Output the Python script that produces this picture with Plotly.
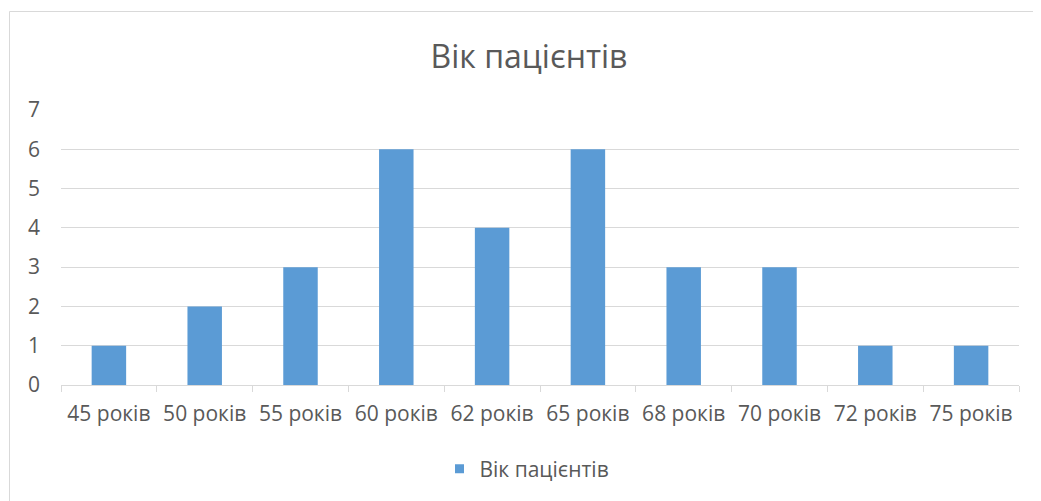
import plotly.graph_objects as go

categories = ["45 років", "50 років", "55 років", "60 років", "62 років",
              "65 років", "68 років", "70 років", "72 років", "75 років"]
values = [1, 2, 3, 6, 4, 6, 3, 3, 1, 1]
series_name = "Вік пацієнтів"
title_text = "Вік пацієнтів"

# the page body has an 8px margin; the figure is drawn at (8, 8)
OFF = 8
W, H = 1041 - OFF, 501 - OFF
# plot area in page pixels: x 61..1019, y 110..385
PL, PR, PT, PB = 61, 1019, 110, 385
L, T = PL - OFF, PT - OFF
R = W - (PR - OFF)
B = H - (PB - OFF)
pw = PR - PL
ph = PB - PT

def px_to_paper_x(px):
    return (px - PL) / pw

def px_to_paper_y(py):
    return (PB - py) / ph

FONT = "Open Sans, Noto Sans, sans-serif"
GRID = "#d9d9d9"
TXT = "#595959"
BLUE = "#5b9bd5"

fig = go.Figure()
fig.add_trace(go.Bar(x=categories, y=values, name=series_name,
                     marker=dict(color=BLUE, line=dict(width=0)),
                     showlegend=False))
# legend entry with a small square marker
fig.add_trace(go.Scatter(x=[None], y=[None], mode="markers", name=series_name,
                         marker=dict(symbol="square", size=9, color=BLUE),
                         showlegend=True, hoverinfo="skip"))

fig.update_layout(
    width=W, height=H,
    margin=dict(l=L, r=R, t=T, b=B),
    paper_bgcolor="white", plot_bgcolor="white",
    bargap=0.64,
    font=dict(family=FONT, color=TXT, size=21),
    title=dict(text=title_text, x=(529 - OFF) / W, xanchor="center",
               y=1 - (57 - OFF) / H, yanchor="middle", yref="container", xref="container",
               font=dict(size=32, color=TXT, family=FONT)),
    showlegend=True,
    legend=dict(orientation="h", x=px_to_paper_x(527), xanchor="center",
                y=px_to_paper_y(469), yanchor="middle", itemwidth=30,
                font=dict(size=21, color=TXT, family=FONT)),
    xaxis=dict(showline=True, linecolor=GRID, linewidth=1,
               ticks="outside", tickson="boundaries", ticklen=6, tickcolor=GRID,
               showgrid=False, tickfont=dict(size=21, color=TXT),
               ticklabelstandoff=10),
    yaxis=dict(range=[0, 7], dtick=1, showgrid=True, gridcolor=GRID, gridwidth=1,
               zeroline=False, showline=False, ticks="",
               tickfont=dict(size=21, color=TXT), ticklabelstandoff=20),
    shapes=[dict(type="rect", xref="paper", yref="paper",
                 x0=px_to_paper_x(9.5), x1=px_to_paper_x(1041 + 20),
                 y0=px_to_paper_y(11.5), y1=px_to_paper_y(501 + 20),
                 line=dict(color=GRID, width=1), fillcolor="rgba(0,0,0,0)",
                 layer="below")],
)

fig.write_html("out.html")
